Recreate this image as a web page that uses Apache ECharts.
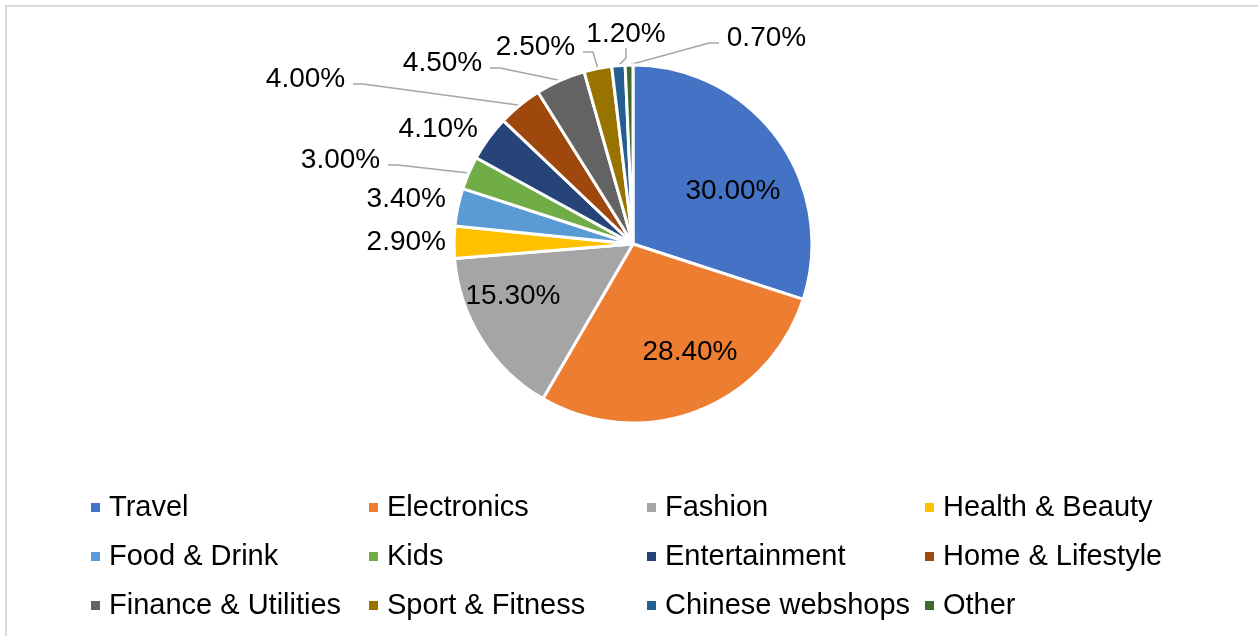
<!DOCTYPE html>
<html>
<head>
<meta charset="utf-8">
<script src="https://cdn.jsdelivr.net/npm/echarts@6/dist/echarts.min.js"></script>
<style>
    html, body { margin: 0; padding: 0; background: #fff; }
    #chart { width: 1258px; height: 636px; }
</style>
</head>
<body>
<div id="chart"></div>
<script>
    // data (share of online spending, %)
    var categories = ['Travel', 'Electronics', 'Fashion', 'Health & Beauty', 'Food & Drink', 'Kids',
        'Entertainment', 'Home & Lifestyle', 'Finance & Utilities', 'Sport & Fitness', 'Chinese webshops', 'Other'];
    var shares = [30.0, 28.4, 15.3, 2.9, 3.4, 3.0, 4.1, 4.0, 4.5, 2.5, 1.2, 0.7];

    // office palette
    var colors = ['#4472C4', '#ED7D31', '#A5A5A5', '#FFC000', '#5B9BD5', '#70AD47',
        '#264478', '#9E480E', '#636363', '#997300', '#255E91', '#43682B'];

    // label placement (x, y, align) like the excel chart, leader lines get drawn by echarts
    var labelSpots = [
        [733, 191, 'center'], [690, 352, 'center'], [513, 296, 'center'],
        [446, 242, 'right'], [446, 199, 'right'], [388, 166, 'right'],
        [478, 129, 'right'], [353, 85, 'right'], [490, 69, 'right'],
        [583, 53, 'right'], [626, 34, 'center'], [719, 44, 'left']
    ];
    var withLine = [false, false, false, false, false, true, false, true, true, true, true, true];
    var legendColumns = [
        ['Travel', 'Food & Drink', 'Finance & Utilities'],
        ['Electronics', 'Kids', 'Sport & Fitness'],
        ['Fashion', 'Entertainment', 'Chinese webshops'],
        ['Health & Beauty', 'Home & Lifestyle', 'Other']
    ];

    var font = 'Liberation Sans, Arial, sans-serif';
    var myChart = echarts.init(document.getElementById('chart'));

    var pieData = categories.map(function (name, i) {
        return {
            name: name,
            value: shares[i],
            labelLine: {show: withLine[i]}
        };
    });

    var option = {
        animation: false,
        color: colors,
        graphic: [{
            type: 'rect',
            shape: {x: 6, y: 6, width: 1400, height: 1000},
            style: {fill: 'none', stroke: '#d9d9d9', lineWidth: 2},
            silent: true
        }],
        legend: legendColumns.map(function (col, k) {
            return {
                data: col,
                orient: 'vertical',
                left: 89 + 278 * k,
                top: 493,
                padding: 0,
                itemWidth: 11,
                itemHeight: 11,
                itemGap: 20,
                icon: 'rect',
                selectedMode: false,
                textStyle: {
                    fontFamily: font,
                    fontSize: 29,
                    lineHeight: 28,
                    color: '#000',
                    padding: [0, 0, 0, 3]
                }
            };
        }),
        series: [{
            type: 'pie',
            center: [633, 244],
            radius: [0, 179],
            startAngle: 90,
            clockwise: true,
            avoidLabelOverlap: false,
            data: pieData,
            itemStyle: {
                borderColor: '#fff',
                borderWidth: 3
            },
            label: {
                show: true,
                position: 'outside',
                fontFamily: font,
                fontSize: 28,
                color: '#000',
                formatter: function (p) {
                    var i = p.dataIndex;
                    var t = p.value.toFixed(2) + '%';
                    if (!withLine[i] || labelSpots[i][2] === 'center') {
                        return t;
                    }
                    // small gap to the line, and an empty second row so the line meets the text low
                    t = labelSpots[i][2] === 'left' ? ' ' + t : t + ' ';
                    return '{v|' + t + '}\n{s| }';
                },
                rich: {
                    v: {fontSize: 28, lineHeight: 28, fontFamily: font, color: '#000'},
                    s: {fontSize: 8, lineHeight: 12}
                }
            },
            labelLine: {
                length: 10,
                length2: 10,
                lineStyle: {color: '#a6a6a6', width: 1.5}
            },
            labelLayout: function (params) {
                var s = labelSpots[params.dataIndex];
                return {x: s[0], y: s[1], align: s[2], verticalAlign: 'middle'};
            }
        }]
    };
    myChart.setOption(option);
</script>
</body>
</html>
